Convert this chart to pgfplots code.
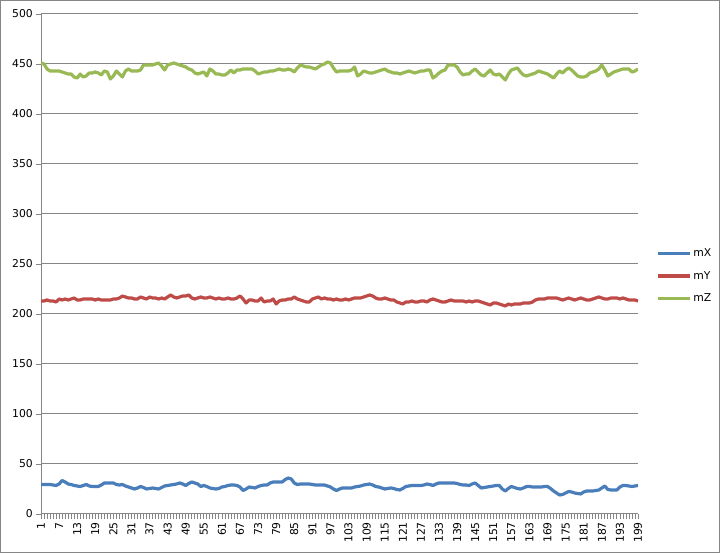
\documentclass[border=0pt]{standalone}
\usepackage{pgfplots}
\usepackage{pgfplotstable}
\pgfplotsset{compat=1.18}
\usepackage{fontspec}
\setmainfont{DejaVu Sans}
\definecolor{cX}{HTML}{4A7EBB}
\definecolor{cY}{HTML}{BE4B48}
\definecolor{cZ}{HTML}{98B954}
\definecolor{axgray}{HTML}{868686}
\pgfplotstableread{
n X Y Z
1 29.5 213 451
2 29.5 213 450
3 29.5 214 445
4 29.5 213 443
5 29 213 443
6 28.5 212 443
7 30 215 443
8 33.5 214 442
9 32 215 441
10 30 214 440
11 29.5 215 440
12 28.5 216 437
13 28 214 436
14 27.5 214 440
15 28.5 215 437
16 29.5 215 438
17 28 215 441
18 27.5 215 441
19 27.5 214 442
20 27.5 215 441
21 29 214 439
22 31 214 443
23 31 214 442
24 31 214 435
25 31 215 438
26 29.5 215 443
27 29 216 440
28 29.5 218 437
29 28 217 443
30 27 216 445
31 26 216 443
32 25 215 443
33 26 215 443
34 27.5 217 444
35 26.5 216 449
36 25 215 449
37 25.5 217 449
38 26 216 449
39 25.5 216 450
40 25 215 451
41 26.5 216 448
42 28 215 444
43 28.5 217 449
44 29 219 450
45 29.5 217 451
46 30 216 450
47 31 217 449
48 30 218 448
49 28.5 218 447
50 30.5 219 445
51 32 216 444
52 31 215 441
53 30 216 440
54 27.5 217 441
55 28.5 216 442
56 27.5 216 438
57 26 217 445
58 25.5 216 443
59 25 215 440
60 25.5 216 440
61 27 215 439
62 27.5 215 439
63 28.5 216 441
64 29 215 444
65 29 215 441
66 28.5 216 444
67 27 218 444
68 23.5 215 445
69 25 211 445
70 27 214 445
71 26.5 214 445
72 26 213 443
73 27.5 213 440
74 28.5 216 441
75 29 212 442
76 29 213 442
77 31 213 443
78 32 215 443
79 32 210 444
80 32 213 445
81 32 214 444
82 34.5 214 444
83 36 215 445
84 35 215 444
85 31 217 442
86 29.5 215 446
87 30 214 449
88 30 213 448
89 30 212 447
90 30 212 447
91 29.5 215 446
92 29 216 445
93 29 217 447
94 29 215 449
95 29 216 450
96 28 215 452
97 27 215 451
98 25 214 446
99 23.5 215 442
100 25 214 443
101 26 214 443
102 26 215 443
103 26 214 443
104 26 215 444
105 27 216 447
106 27.5 216 438
107 28 216 440
108 29 217 443
109 29.5 218 442
110 30 219 441
111 29 218 441
112 27.5 216 442
113 27 215 443
114 26 215 444
115 25 216 445
116 25.5 215 443
117 26 214 442
118 25.5 214 441
119 24.5 212 441
120 24 211 440
121 25.5 210 441
122 27.5 212 442
123 28 212 443
124 28.5 213 442
125 28.5 212 441
126 28.5 212 442
127 28.5 213 443
128 29 213 443
129 30 212 444
130 29.5 214 444
131 28.5 215 436
132 30 214 438
133 31 213 441
134 31 212 443
135 31 212 444
136 31 213 449
137 31 214 449
138 31 213 449
139 30.5 213 447
140 29.5 213 442
141 29 213 439
142 29 212 440
143 28.5 213 440
144 30 212 443
145 31 213 445
146 28.5 213 442
147 26 212 439
148 26.5 211 438
149 27 210 441
150 27.5 209 444
151 28 211 440
152 28.5 211 439
153 28.5 210 440
154 25 209 437
155 23 208 434
156 25.5 210 440
157 27.5 209 444
158 26.5 210 445
159 25.5 210 446
160 25 210 442
161 26 211 439
162 27.5 211 438
163 27.5 211 439
164 27 212 440
165 27 214 441
166 27 215 443
167 27 215 442
168 27.5 215 441
169 27.5 216 440
170 25.5 216 438
171 23 216 436
172 21 216 440
173 19 215 443
174 19.5 214 441
175 21 215 444
176 22.5 216 446
177 22 215 444
178 21 214 441
179 20.5 215 438
180 20 216 437
181 22 215 437
182 23 214 438
183 23 214 441
184 23 215 442
185 23.5 216 443
186 24 217 445
187 26 216 449
188 28 215 444
189 24.5 215 438
190 24 216 440
191 24 216 442
192 24 216 443
193 27 215 444
194 28.5 216 445
195 28.5 215 445
196 28 214 445
197 27.5 214 442
198 28 214 443
199 28.5 213 445
}\data
\begin{document}
\begin{tikzpicture}[x=1pt,y=1pt]
\useasboundingbox (0,0) rectangle (720,553);
\draw[axgray, line width=1pt] (0.5,0.5) rectangle (719.5,552.5);
\begin{axis}[
  at={(41pt,39pt)}, anchor=south west,
  scale only axis, width=597pt, height=500pt,
  xmin=1, xmax=199, ymin=0, ymax=500,
  axis lines*=left,
  axis line style={axgray, line width=1pt},
  ytick={0,50,...,500},
  xtick={1,7,...,199},
  minor xtick={1,...,199},
  tick align=outside,
  major tick length=5pt, minor tick length=5pt,
  tick style={axgray, line width=0.8pt},
  ymajorgrids,
  grid style={axgray, line width=1pt},
  /pgf/number format/assume math mode=true,
  tick label style={font=\fontsize{10.8}{13}\selectfont, text=black},
  xticklabel style={rotate=90, anchor=east, inner sep=3pt},
  yticklabel style={inner sep=3pt},
  every axis plot/.append style={line width=3.2pt, no markers, line join=round},
  legend style={at={(1,0.476)}, anchor=west, xshift=16pt, draw=none, fill=none,
    font=\fontsize{10.8}{13}\selectfont, row sep=9pt, inner sep=2pt},
  legend cell align=left,
  legend image code/.code={\draw[#1] (0pt,0pt) -- (32pt,0pt);},
]
\addplot[cX] table[x=n, y=X] {\data};
\addlegendentry{mX}
\addplot[cY] table[x=n, y=Y] {\data};
\addlegendentry{mY}
\addplot[cZ] table[x=n, y=Z] {\data};
\addlegendentry{mZ}
\end{axis}
\end{tikzpicture}
\end{document}
